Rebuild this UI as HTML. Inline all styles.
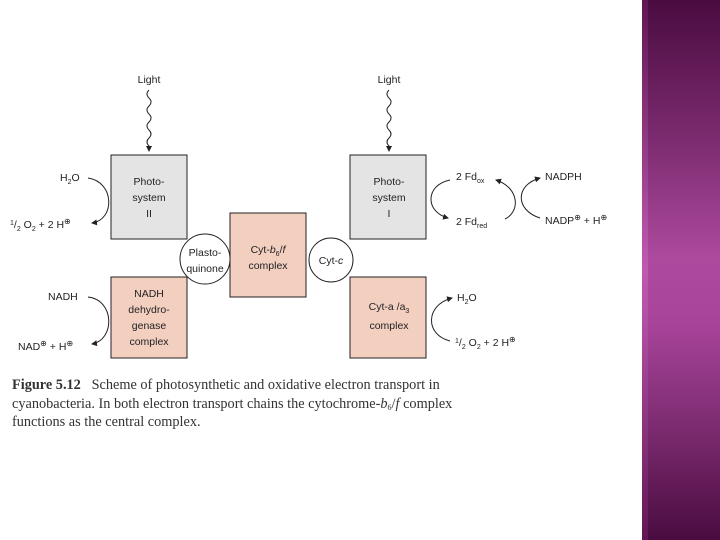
<!DOCTYPE html>
<html><head><meta charset="utf-8"><style>
body{margin:0;width:720px;height:540px;overflow:hidden;background:#fff;position:relative;font-family:"Liberation Sans",sans-serif}
#bar{position:absolute;left:642px;top:0;width:78px;height:540px;background:linear-gradient(#4a0c40 0%,#7a2a6e 25%,#ad4a9e 48%,#a8449a 60%,#7a2a6e 80%,#4a0c40 100%)}
#bar:before{content:"";position:absolute;left:0;top:0;width:6px;height:100%;background:linear-gradient(#6a1a5e,#c860b8 50%,#6a1a5e);opacity:.7}
#cap{position:absolute;left:12px;top:376px;font-family:"Liberation Serif",serif;font-size:14.3px;line-height:18.5px;color:#333;white-space:nowrap}
#cap sub{font-size:8px;line-height:0;vertical-align:-2px}
</style></head><body>
<svg width="642" height="370" style="position:absolute;left:0;top:0" font-family="Liberation Sans, sans-serif" font-size="10.5" fill="#222">
<defs><marker id="a" markerWidth="6" markerHeight="6" refX="5" refY="3" orient="auto"><path d="M0,0L6,3L0,6z" fill="#222"/></marker></defs>
<g stroke="#222" fill="none" stroke-width="1">
<path d="M149,90 q-4,4 0,8 q4,4 0,8 q-4,4 0,8 q4,4 0,8 q-4,4 0,8 q4,4 0,8 q-4,4 0,8 l0,5" marker-end="url(#a)"/>
<path d="M389,90 q-4,4 0,8 q4,4 0,8 q-4,4 0,8 q4,4 0,8 q-4,4 0,8 q4,4 0,8 q-4,4 0,8 l0,5" marker-end="url(#a)"/>
<path d="M88,178 C115,182 115,220 92,223" marker-end="url(#a)"/>
<path d="M88,297 C115,300 115,340 92,344" marker-end="url(#a)"/>
<path d="M450,180 C425,185 425,212 448,218" marker-end="url(#a)"/>
<path d="M505,219 C520,212 520,188 496,180" marker-end="url(#a)"/>
<path d="M540,218 C515,210 515,185 540,178" marker-end="url(#a)"/>
<path d="M450,341 C425,335 425,305 452,298" marker-end="url(#a)"/>
</g>
<rect x="111" y="155" width="76" height="84" fill="#e4e4e4" stroke="#222"/>
<rect x="111" y="277" width="76" height="81" fill="#f3cfc0" stroke="#222"/>
<rect x="230" y="213" width="76" height="84" fill="#f3cfc0" stroke="#222"/>
<rect x="350" y="155" width="76" height="84" fill="#e4e4e4" stroke="#222"/>
<rect x="350" y="277" width="76" height="81" fill="#f3cfc0" stroke="#222"/>
<circle cx="205" cy="259" r="25" fill="#fff" stroke="#222"/>
<circle cx="331" cy="260" r="22" fill="#fff" stroke="#222"/>
<g text-anchor="middle">
<text x="149" y="83">Light</text><text x="389" y="83">Light</text>
<text x="149" y="185">Photo-</text><text x="149" y="201">system</text><text x="149" y="217">II</text>
<text x="389" y="185">Photo-</text><text x="389" y="201">system</text><text x="389" y="217">I</text>
<text x="149" y="297">NADH</text><text x="149" y="313">dehydro-</text><text x="149" y="329">genase</text><text x="149" y="345">complex</text>
<text x="268" y="253">Cyt-<tspan font-style="italic">b</tspan><tspan font-size="7" dy="3">6</tspan><tspan dy="-3">/</tspan><tspan font-style="italic">f</tspan></text><text x="268" y="269">complex</text>
<text x="205" y="256">Plasto-</text><text x="205" y="272">quinone</text>
<text x="331" y="264">Cyt-<tspan font-style="italic">c</tspan></text>
<text x="389" y="310">Cyt-a /a<tspan font-size="7" dy="3">3</tspan></text><text x="389" y="329">complex</text>
</g>
<text x="60" y="181">H<tspan font-size="7" dy="3">2</tspan><tspan dy="-3">O</tspan></text>
<text x="10" y="228"><tspan font-size="7" dy="-3">1</tspan><tspan dy="3">/</tspan><tspan font-size="7" dy="3">2</tspan><tspan dy="-3"> O</tspan><tspan font-size="7" dy="3">2</tspan><tspan dy="-3"> + 2 H</tspan><tspan font-size="8" dy="-4">⊕</tspan></text>
<text x="48" y="300">NADH</text>
<text x="18" y="350">NAD<tspan font-size="8" dy="-4">⊕</tspan><tspan dy="4"> + H</tspan><tspan font-size="8" dy="-4">⊕</tspan></text>
<text x="456" y="180">2 Fd<tspan font-size="7" dy="3">ox</tspan></text>
<text x="456" y="225">2 Fd<tspan font-size="7" dy="3">red</tspan></text>
<text x="545" y="180">NADPH</text>
<text x="545" y="224">NADP<tspan font-size="8" dy="-4">⊕</tspan><tspan dy="4"> + H</tspan><tspan font-size="8" dy="-4">⊕</tspan></text>
<text x="457" y="301">H<tspan font-size="7" dy="3">2</tspan><tspan dy="-3">O</tspan></text>
<text x="455" y="346"><tspan font-size="7" dy="-3">1</tspan><tspan dy="3">/</tspan><tspan font-size="7" dy="3">2</tspan><tspan dy="-3"> O</tspan><tspan font-size="7" dy="3">2</tspan><tspan dy="-3"> + 2 H</tspan><tspan font-size="8" dy="-4">⊕</tspan></text>
</svg>
<div id="cap"><b>Figure 5.12</b>&nbsp;&nbsp; Scheme of photosynthetic and oxidative electron transport in<br>cyanobacteria. In both electron transport chains the cytochrome-<i>b</i><sub>6</sub>/<i>f</i> complex<br>functions as the central complex.</div>
<div id="bar"></div>
</body></html>
